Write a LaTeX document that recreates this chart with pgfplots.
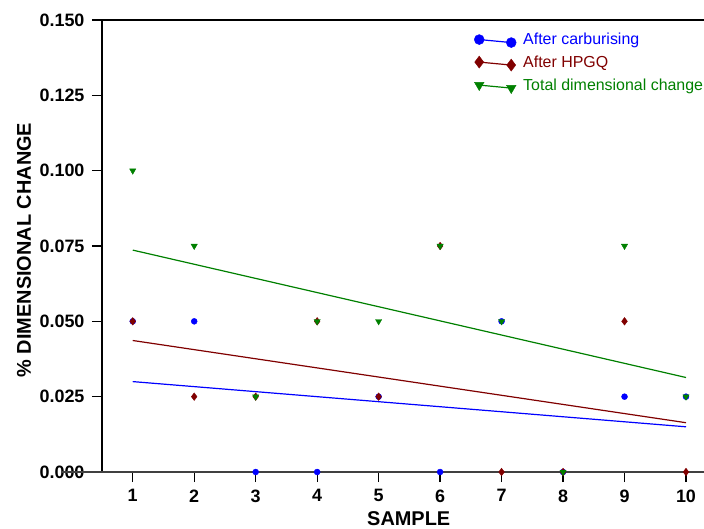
\documentclass[border=0pt]{standalone}
\usepackage{fontspec}
\setmainfont{Liberation Sans}
\usepackage{pgfplots}
\pgfplotsset{compat=1.18}
\usetikzlibrary{calc}
\definecolor{cblue}{RGB}{0,0,255}
\definecolor{cred}{RGB}{128,0,0}
\definecolor{cgreen}{RGB}{0,128,0}
\definecolor{axgray}{RGB}{64,64,64}
\begin{document}
\begin{tikzpicture}
\begin{axis}[
  scale only axis, width=602bp, height=452bp,
  xmin=0.5, xmax=10.293, ymin=0, ymax=0.15,
  axis line style={draw=none},
  xtick={1,2,3,4,5,6,7,8,9,10},
  ytick={0,0.025,0.05,0.075,0.1,0.125,0.15},
  tick align=outside, major tick length=10bp,
  xtick pos=left, ytick pos=left,
  tick style={black, line width=1.3bp},
  /pgf/number format/assume math mode=true,
  ticklabel style={font=\bfseries\fontsize{18}{20}\selectfont},
  y tick label style={/pgf/number format/fixed, /pgf/number format/precision=3, /pgf/number format/zerofill},
  every y tick label/.append style={xshift=-4bp},
  every x tick label/.append style={yshift=-4bp},
  scaled y ticks=false,
  xlabel={SAMPLE}, ylabel={\% DIMENSIONAL CHANGE},
  label style={font=\bfseries\fontsize{20}{22}\selectfont},
  xlabel style={at={(axis description cs:0.5095,-0.104)}, anchor=center},
  ylabel style={at={(axis description cs:-0.1296,0.491)}, anchor=center},
  clip=false,
  legend style={draw=none, fill=none, at={(rel axis cs:0.618,0.976)}, anchor=north west,
    font=\fontsize{16}{18}\selectfont, row sep=5.5bp, column sep=5bp, inner sep=0pt},
  legend cell align=left,
  legend image code/.code={\draw[#1] plot coordinates {(0bp,0bp) (32bp,-3bp)};},
]
\addlegendimage{cblue, line width=1.2bp, mark=*, mark size=5bp, mark options={solid, line width=0.4bp}}
\addlegendentry{\textcolor{cblue}{After carburising}}
\addlegendimage{cred, line width=1.2bp, mark=diamond*, mark size=6bp, mark options={solid, line width=0.4bp}}
\addlegendentry{\textcolor{cred}{After HPGQ}}
\addlegendimage{cgreen, line width=1.2bp, mark=triangle*, mark size=5.5bp, mark options={solid, line width=0.4bp, rotate=180}}
\addlegendentry{\textcolor{cgreen}{Total dimensional change}}

\draw[black, line width=1.3bp] (rel axis cs:0,0) -- (rel axis cs:0,1);
\draw[black, line width=1.5bp] (rel axis cs:0,1) -- (rel axis cs:1,1);
\draw[axgray, line width=2bp] ($(rel axis cs:0,0)+(-9.6bp,0)$) -- (rel axis cs:1,0);

% trend lines
\addplot[cblue, line width=1.2bp, forget plot] coordinates {(1,0.0300) (10,0.0150)};
\addplot[cred, line width=1.2bp, forget plot] coordinates {(1,0.04364) (10,0.01636)};
\addplot[cgreen, line width=1.2bp, forget plot] coordinates {(1,0.07364) (10,0.03136)};

% data
\addplot[only marks, forget plot, mark=*, mark size=3bp, color=cblue] coordinates {
(1,0.05) (2,0.05) (3,0) (4,0) (5,0.025) (6,0) (7,0.05) (8,0) (9,0.025) (10,0.025)};
\addplot[only marks, forget plot, mark=diamond*, mark size=3.8bp, color=cred] coordinates {
(1,0.05) (2,0.025) (3,0.025) (4,0.05) (5,0.025) (6,0.075) (7,0) (8,0) (9,0.05) (10,0)};
\addplot[only marks, forget plot, mark=triangle*, mark size=3.6bp, color=cgreen, mark options={rotate=180}] coordinates {
(1,0.1) (2,0.075) (3,0.025) (4,0.05) (5,0.05) (6,0.075) (7,0.05) (8,0) (9,0.075) (10,0.025)};
\end{axis}
\pgfresetboundingbox
\path[use as bounding box] ($(current axis.south west)+(-102bp,-57bp)$) rectangle ($(current axis.north east)+(0bp,20bp)$);
\end{tikzpicture}
\end{document}
